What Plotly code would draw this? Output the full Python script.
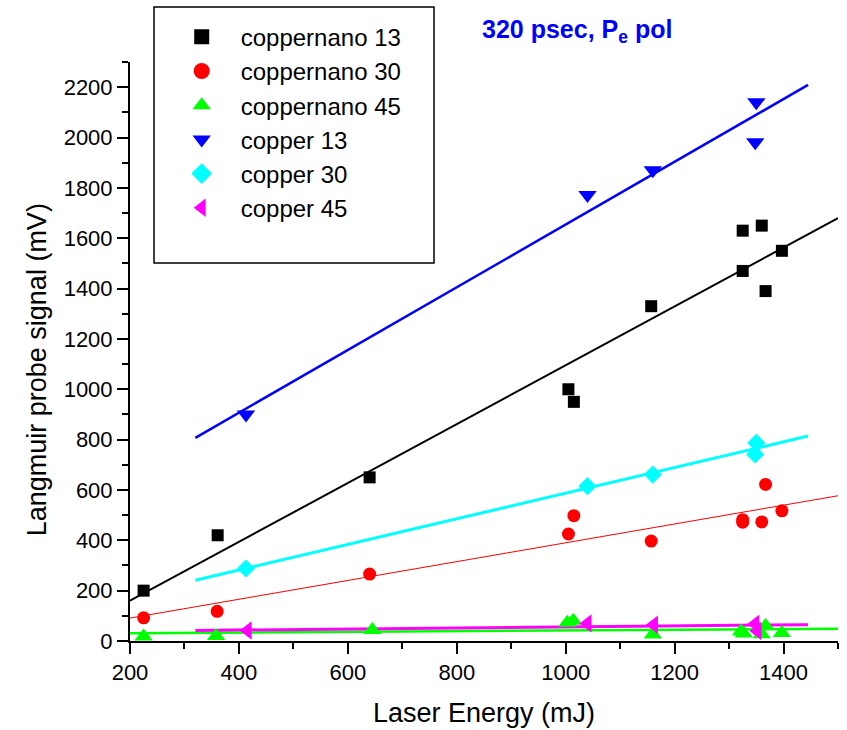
import plotly.graph_objects as go

# ---------------- data ----------------
nano13_x = [225, 361, 640, 1005, 1015, 1157, 1325, 1367, 1325, 1360, 1397]
nano13_y = [200, 420, 650, 1000, 950, 1330, 1470, 1390, 1630, 1650, 1550]

nano30_x = [225, 360, 640, 1005, 1015, 1157, 1325, 1325, 1360, 1397, 1367]
nano30_y = [92, 118, 266, 425, 498, 397, 482, 472, 473, 517, 622]

nano45_x = [225, 358, 645, 1003, 1014, 1160, 1322, 1327, 1360, 1367, 1397]
nano45_y = [18, 20, 44, 72, 80, 26, 38, 30, 27, 60, 32]

cu13_x = [413, 1040, 1160, 1350, 1348]
cu13_y = [900, 1772, 1870, 2140, 1981]

cu30_x = [413, 1040, 1160, 1350, 1348]
cu30_y = [288, 615, 661, 787, 741]

cu45_x = [416, 1040, 1162, 1348, 1352]
cu45_y = [42, 70, 65, 68, 40]

# linear-fit lines (end points)
fit_nano13_x, fit_nano13_y = [200, 1500], [160, 1680]
fit_nano30_x, fit_nano30_y = [200, 1500], [91, 577]
fit_nano45_x, fit_nano45_y = [200, 1500], [31, 49]
fit_cu13_x, fit_cu13_y = [320, 1445], [807, 2209]
fit_cu30_x, fit_cu30_y = [320, 1445], [241, 814]
fit_cu45_x, fit_cu45_y = [320, 1445], [42, 65]

names = ["coppernano 13", "coppernano 30", "coppernano 45",
         "copper 13", "copper 30", "copper 45"]

x_title = "Laser Energy (mJ)"
y_title = "Langmuir probe signal (mV)"
chart_title = "<b>320 psec, P<sub>e</sub> pol</b>"

# ---------------- styles ----------------
FONT = "Arial, Liberation Sans, sans-serif"
series = [
    (nano13_x, nano13_y, fit_nano13_x, fit_nano13_y, "#000000", "square", 12, 2.0),
    (nano30_x, nano30_y, fit_nano30_x, fit_nano30_y, "#FF0000", "circle", 13, 1.0),
    (nano45_x, nano45_y, fit_nano45_x, fit_nano45_y, "#00FF00", "triangle-up", 16, 2.5),
    (cu13_x, cu13_y, fit_cu13_x, fit_cu13_y, "#0000FF", "triangle-down", 16, 2.5),
    (cu30_x, cu30_y, fit_cu30_x, fit_cu30_y, "#00FFFF", "diamond", 14, 3.0),
    (cu45_x, cu45_y, fit_cu45_x, fit_cu45_y, "#FF00FF", "triangle-left", 16, 3.0),
]
legend_sizes = [15, 16, 16, 16, 16, 16]

fig = go.Figure()

# fit lines
for (x, y, fx, fy, col, sym, ms, lw) in series:
    fig.add_trace(go.Scatter(x=fx, y=fy, mode="lines",
                             line=dict(color=col, width=lw),
                             showlegend=False, hoverinfo="skip"))

# data markers
for (x, y, fx, fy, col, sym, ms, lw), nm in zip(series, names):
    fig.add_trace(go.Scatter(x=x, y=y, mode="markers", name=nm,
                             marker=dict(symbol=sym, size=ms, color=col,
                                         line=dict(width=0)),
                             showlegend=False))

# legend entries (legend-only traces, larger symbols as in the reference)
for (x, y, fx, fy, col, sym, ms, lw), nm, ls in zip(series, names, legend_sizes):
    fig.add_trace(go.Scatter(x=[None], y=[None], mode="markers", name=nm,
                             marker=dict(symbol=sym, size=ls, color=col,
                                         line=dict(width=0)),
                             showlegend=True))

axis_common = dict(
    showline=True, linewidth=2, linecolor="black", mirror=False,
    ticks="outside", ticklen=11, tickwidth=2, tickcolor="black",
    showgrid=False, zeroline=False,
    tickfont=dict(family=FONT, size=22, color="black"),
)

fig.update_layout(
    width=847, height=730,
    margin=dict(l=130, r=9, t=62, b=89),
    paper_bgcolor="white", plot_bgcolor="white",
    font=dict(family=FONT, color="black"),
    xaxis=dict(range=[200, 1500], tick0=200, dtick=200,
               minor=dict(dtick=100, ticks="outside", ticklen=6,
                          tickwidth=2, tickcolor="black"),
               **axis_common),
    yaxis=dict(range=[0, 2300], tick0=0, dtick=200,
               minor=dict(dtick=100, ticks="outside", ticklen=6,
                          tickwidth=2, tickcolor="black"),
               **axis_common),
    legend=dict(x=0.0462, y=1.0817, xanchor="left", yanchor="top",
                bgcolor="rgba(0,0,0,0)", borderwidth=0,
                itemwidth=68,
                font=dict(family=FONT, size=24, color="black")),
    shapes=[dict(type="rect", xref="paper", yref="paper",
                 x0=0.0339, x1=0.4294, y0=0.6528, y1=1.095,
                 line=dict(color="black", width=1.5),
                 fillcolor="rgba(0,0,0,0)", layer="above")],
    annotations=[
        dict(text=x_title, xref="paper", yref="paper", x=0.5, y=-0.1244,
             xanchor="center", yanchor="middle", showarrow=False,
             font=dict(family=FONT, size=27, color="black")),
        dict(text=y_title, xref="paper", yref="paper", x=-0.131, y=0.468,
             xanchor="center", yanchor="middle", showarrow=False,
             textangle=-90,
             font=dict(family=FONT, size=27, color="black")),
        dict(text=chart_title, xref="paper", yref="paper", x=0.632, y=1.0535,
             xanchor="center", yanchor="middle", showarrow=False,
             font=dict(family=FONT, size=25, color="#0000FF")),
    ],
)

fig.write_html("out.html")
